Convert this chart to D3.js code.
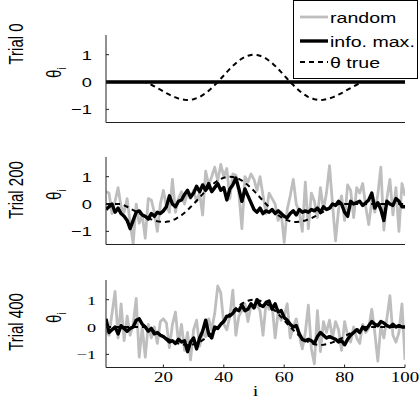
<!DOCTYPE html>
<html>
<head>
<meta charset="utf-8">
<script src="https://cdn.jsdelivr.net/npm/d3@7"></script>
<style>
body { margin: 0; background: #fff; }
</style>
</head>
<body>
<div id="chart"></div>
<script>
const trialLabels = ["Trial 0", "Trial 200", "Trial 400"];
const legendLabels = ["random", "info. max.", "θ true"];
const xTicks = [20, 40, 60, 80, 100];
const yTicks = [-1, 0, 1];

const thetaTrue = [
    0, 0, 0, 0, 0, 0, 0, 0, 0, 0,
    0, 0, 0, 0, -0.05, -0.10, -0.16, -0.22, -0.28, -0.34,
    -0.41, -0.46, -0.52, -0.56, -0.60, -0.63, -0.65, -0.66, -0.65, -0.63,
    -0.59, -0.55, -0.48, -0.41, -0.32, -0.22, -0.11, 0, 0.12, 0.24,
    0.36, 0.48, 0.59, 0.69, 0.78, 0.86, 0.92, 0.96, 0.99, 1.00,
    0.99, 0.96, 0.92, 0.86, 0.78, 0.69, 0.59, 0.48, 0.36, 0.24,
    0.12, 0, -0.11, -0.22, -0.32, -0.41, -0.48, -0.55, -0.59, -0.63,
    -0.65, -0.66, -0.65, -0.63, -0.60, -0.56, -0.52, -0.46, -0.41, -0.34,
    -0.28, -0.22, -0.16, -0.10, -0.05, 0, 0, 0, 0, 0,
    0, 0, 0, 0, 0, 0, 0, 0, 0, 0
];

// the dashed curve in the middle panel sits a few samples further left
const thetaTrue200 = [
    0, 0, 0, 0, 0, 0, -0.05, -0.10, -0.16, -0.22,
    -0.28, -0.34, -0.41, -0.46, -0.52, -0.56, -0.60, -0.63, -0.65, -0.66,
    -0.65, -0.63, -0.59, -0.55, -0.48, -0.41, -0.32, -0.22, -0.11, 0,
    0.12, 0.24, 0.36, 0.48, 0.59, 0.69, 0.78, 0.86, 0.92, 0.96,
    0.99, 1.00, 0.99, 0.96, 0.92, 0.86, 0.78, 0.69, 0.59, 0.48,
    0.36, 0.24, 0.12, 0, -0.11, -0.22, -0.32, -0.41, -0.48, -0.55,
    -0.59, -0.63, -0.65, -0.66, -0.65, -0.63, -0.60, -0.56, -0.52, -0.46,
    -0.41, -0.34, -0.28, -0.22, -0.16, -0.10, -0.05, 0, 0, 0,
    0, 0, 0, 0, 0, 0, 0, 0, 0, 0,
    0, 0, 0, 0, 0, 0, 0, 0, 0, 0
];

const random0 = [
    0, 0, 0, 0, 0, 0, 0, 0, 0, 0, 0, 0, 0, 0, 0, 0, 0, 0, 0, 0,
    0, 0, 0, 0, 0, 0, 0, 0, 0, 0, 0, 0, 0, 0, 0, 0, 0, 0, 0, 0,
    0, 0, 0, 0, 0, 0, 0, 0, 0, 0, 0, 0, 0, 0, 0, 0, 0, 0, 0, 0,
    0, 0, 0, 0, 0, 0, 0, 0, 0, 0, 0, 0, 0, 0, 0, 0, 0, 0, 0, 0,
    0, 0, 0, 0, 0, 0, 0, 0, 0, 0, 0, 0, 0, 0, 0, 0, 0, 0, 0, 0
];
const infoMax0 = [
    0, 0, 0, 0, 0, 0, 0, 0, 0, 0, 0, 0, 0, 0, 0, 0, 0, 0, 0, 0,
    0, 0, 0, 0, 0, 0, 0, 0, 0, 0, 0, 0, 0, 0, 0, 0, 0, 0, 0, 0,
    0, 0, 0, 0, 0, 0, 0, 0, 0, 0, 0, 0, 0, 0, 0, 0, 0, 0, 0, 0,
    0, 0, 0, 0, 0, 0, 0, 0, 0, 0, 0, 0, 0, 0, 0, 0, 0, 0, 0, 0,
    0, 0, 0, 0, 0, 0, 0, 0, 0, 0, 0, 0, 0, 0, 0, 0, 0, 0, 0, 0
];

const random200 = [
    0.45, 0.4, -0.35, 0.1, 0.6, -0.1, -0.3, 0.2, -0.7, -1.45,
    0.0, -0.7, -0.4, -1.25, 0.2, 0.15, -0.3, -1.0, 0.0, 0.5,
    -0.1, -0.3, 0.9, -0.3, 0.2, 0.45, 0.0, 0.45, 0.2, 0.5,
    0.1, 0.4, -0.4, 1.2, 0.7, 1.0, 1.35, 0.85, 1.45, 1.0,
    1.3, 0.2, 1.1, 1.05, 0.4, -0.9, 1.0, 0.8, 1.1, 0.9,
    0.5, 1.0, 0.3, -0.35, 0.4, 0.2, 0.0, -0.6, -0.3, -1.4,
    -0.2, 0.3, 0.9, 0.0, -0.3, -1.0, 0.8, -0.9, 0.4, 0.1,
    -0.5, 0.6, -0.2, 0.4, 1.4, 0.0, -1.35, -0.2, 0.3, -0.6,
    0.7, 0.5, -0.5, 0.6, 0.4, 0.75, -0.1, -0.75, 0.1, -0.3,
    0.35, 1.35, -0.95, 0.2, 0.9, -0.4, 0.6, -1.0, 0.75, 0.3
];
const infoMax200 = [
    -0.2, -0.1, 0.0, -0.3, -0.15, -0.35, -0.45, -0.6, -0.9, -0.6,
    -0.3, -0.25, -0.4, -0.45, -0.55, -0.35, -0.45, -0.3, -0.35, -0.25,
    -0.1, 0.3, 0.0, -0.1, 0.1, 0.15, 0.35, 0.5, 0.25, 0.4,
    0.65, 0.45, 0.7, 0.5, 0.75, 0.45, 0.6, 0.75, 0.5, 0.6,
    0.15, 0.55, 0.7, 0.95, 0.55, 0.1, 0.55, 0.3, 0.05, -0.2,
    -0.3, -0.15, -0.35, -0.25, -0.3, -0.2, -0.35, -0.25, -0.35, -0.45,
    -0.5, -0.35, -0.25, -0.4, -0.2, -0.3, -0.25, -0.3, -0.2, -0.25,
    -0.15, -0.3, -0.1, -0.2, -0.15, 0.0, -0.05, 0.1, 0.0, -0.3,
    -0.45, 0.1, 0.0, 0.05, 0.1, -0.05, 0.05, 0.15, 0.4, -0.15,
    0.05, -0.2, -0.6, 0.1, 0.0, -0.05, 0.2, 0.1, -0.1, -0.1
];

const random400 = [
    -0.1, -0.3, 0.5, 1.3, -0.4, 0.85, -0.5, 0.4, -0.3, 0.1,
    1.05, -1.1, 0.0, -1.1, 0.1, -0.4, 0.0, -0.6, 0.2, 0.3,
    0.15, -0.75, 0.1, 0.55, -0.6, 0.1, -0.85, -0.2, -1.2, -0.1,
    0.25, -0.7, -0.2, -0.35, 0.3, -0.1, 0.5, 1.5, 1.25, 0.1,
    -0.1, 0.4, 1.35, -0.3, 0.4, 0.6, 0.85, 0.2, 0.8, 0.7,
    0.8, 0.6, -0.3, 0.9, 0.65, 0.8, -0.4, 0.55, 0.25, 0.4,
    0.85, -0.4, 0.0, 0.3, -0.3, -0.8, -0.2, 0.8, -0.8, -1.35,
    0.6, -0.9, 0.2, -0.2, 0.25, -0.4, 0.2, -0.1, -0.85, 0.2,
    -0.3, -0.55, 0.0, -0.4, -0.6, 0.1, -0.2, -0.05, 0.65, -0.2,
    -1.25, 0.05, -0.4, 0.3, 1.15, -0.3, -0.55, -0.2, 0.85, -1.2
];
const infoMax400 = [
    0.3, -0.2, -0.1, 0.0, -0.25, 0.05, -0.05, -0.15, -0.05, 0.0,
    0.25, 0.3, 0.1, 0.0, -0.15, -0.05, -0.25, -0.2, -0.3, -0.35,
    -0.45, -0.55, -0.5, -0.6, -0.45, -0.55, -0.5, -0.9, -0.55, -0.4,
    -0.8, -0.4, -0.15, 0.25, -0.25, -0.4, 0.0, -0.05, 0.1, 0.2,
    0.4, 0.4, 0.5, 0.65, 0.6, 0.8, 0.6, 0.65, 0.85, 0.7,
    1.0, 0.8, 0.75, 0.9, 0.95, 0.65, 0.85, 0.55, 0.6, 0.35,
    0.25, 0.1, 0.0, 0.05, -0.25, -0.45, -0.5, -0.45, -0.5, -0.6,
    -0.35, -0.2, -0.3, -0.4, -0.35, -0.4, -0.45, -0.55, -0.5, -0.65,
    -0.45, -0.3, -0.2, -0.1, -0.2, 0.0, -0.1, 0.05, 0.2, 0.1,
    0.05, 0.2, 0.15, 0.05, 0.0, 0.1, 0.0, 0.05, 0.0, 0.0
];

const panels = [
    { random: random0, infoMax: infoMax0, theta: thetaTrue },
    { random: random200, infoMax: infoMax200, theta: thetaTrue200 },
    { random: random400, infoMax: infoMax400, theta: thetaTrue }
];

const width = 419, height = 403;
const left = 106, right = 405;
const panelTops = [35, 157, 280];
const panelHeight = 87.5;
const sx = 1.35; // text in the picture is stretched horizontally
const sansFont = "'Liberation Sans', Arial, sans-serif";
const serifFont = "'Liberation Serif', 'Times New Roman', serif";

const svg = d3.select("#chart").append("svg")
    .attr("width", width)
    .attr("height", height)
    .style("display", "block");

const x = d3.scaleLinear().domain([1, 100]).range([left, right]);

function flatText(g, px, py, str, font, size, anchor) {
    return g.append("text")
        .attr("transform", `translate(${px},${py}) scale(${sx},1)`)
        .attr("text-anchor", anchor)
        .style("font-family", font)
        .style("font-size", size + "px")
        .attr("fill", "#000")
        .text(str);
}

function renderPanel(p, k) {
    const top = panelTops[k];
    const y = d3.scaleLinear().domain([-1.48, 1.72]).range([top + panelHeight, top]);
    const serif = k === 2;
    const tickFont = serif ? serifFont : sansFont;
    const g = svg.append("g");

    g.append("clipPath").attr("id", "clip" + k)
        .append("rect")
        .attr("x", left).attr("y", top)
        .attr("width", right - left).attr("height", panelHeight);

    const line = d3.line().x((d, i) => x(i + 1)).y(d => y(d));
    const plot = g.append("g").attr("clip-path", `url(#clip${k})`);

    plot.append("path").datum(p.random)
        .attr("d", line).attr("fill", "none")
        .attr("stroke", "#bebebe").attr("stroke-width", 2.8)
        .attr("stroke-linejoin", "round");
    plot.append("path").datum(p.infoMax)
        .attr("d", line).attr("fill", "none")
        .attr("stroke", "#000").attr("stroke-width", 3.4)
        .attr("stroke-linejoin", "round");
    plot.append("path").datum(p.theta)
        .attr("d", line).attr("fill", "none")
        .attr("stroke", "#000").attr("stroke-width", 2)
        .attr("stroke-dasharray", "5,4");

    // axes: left and bottom only, ticks inward
    g.append("line")
        .attr("x1", left).attr("x2", left)
        .attr("y1", top).attr("y2", top + panelHeight)
        .attr("stroke", "#222");
    g.append("line")
        .attr("x1", left).attr("x2", right)
        .attr("y1", top + panelHeight).attr("y2", top + panelHeight)
        .attr("stroke", "#222");

    yTicks.forEach(t => {
        g.append("line")
            .attr("x1", left).attr("x2", left + 3)
            .attr("y1", y(t)).attr("y2", y(t))
            .attr("stroke", "#222");
        const label = t < 0 ? "\u2212" + Math.abs(t) : String(t);
        flatText(g, serif ? 96 : 92, y(t) + 5, label, tickFont, 13.5, "end");
    });

    if (k === 2) {
        xTicks.forEach(t => {
            g.append("line")
                .attr("x1", x(t)).attr("x2", x(t))
                .attr("y1", top + panelHeight).attr("y2", top + panelHeight - 3)
                .attr("stroke", "#222");
            flatText(g, x(t), 382, String(t), tickFont, 14, "middle");
        });
        flatText(g, (left + right) / 2, 396, "i", tickFont, 15, "middle");
    }

    // rotated labels
    const trialY = [44, 190, 322][k];
    g.append("text")
        .attr("transform", `translate(23,${trialY}) rotate(-90) scale(1,${sx})`)
        .attr("text-anchor", "middle")
        .style("font-family", sansFont)
        .style("font-size", "15px")
        .text(trialLabels[k]);

    const th = g.append("text")
        .attr("transform", `translate(61,${top + panelHeight / 2 - 6}) rotate(-90) scale(1,${sx})`)
        .attr("text-anchor", "middle")
        .style("font-family", sansFont)
        .style("font-size", "15px");
    th.append("tspan").text("θ");
    th.append("tspan").attr("dy", 4).style("font-size", "10px").text("i");
}

function renderLegend() {
    const g = svg.append("g");
    g.append("rect")
        .attr("x", 293.5).attr("y", 0.5)
        .attr("width", 124).attr("height", 78)
        .attr("fill", "#fff").attr("stroke", "#000");
    const rows = [17, 41, 62];
    const styles = [
        { stroke: "#bebebe", w: 2.8, dash: null },
        { stroke: "#000", w: 3.4, dash: null },
        { stroke: "#000", w: 2, dash: "5,4" }
    ];
    legendLabels.forEach((lab, j) => {
        g.append("line")
            .attr("x1", 300).attr("x2", 328)
            .attr("y1", rows[j]).attr("y2", rows[j])
            .attr("stroke", styles[j].stroke)
            .attr("stroke-width", styles[j].w)
            .attr("stroke-dasharray", styles[j].dash);
        flatText(g, 330, rows[j] + 5.5, lab, sansFont, 14.5, "start");
    });
}

panels.forEach(renderPanel);
renderLegend();
</script>
</body>
</html>
